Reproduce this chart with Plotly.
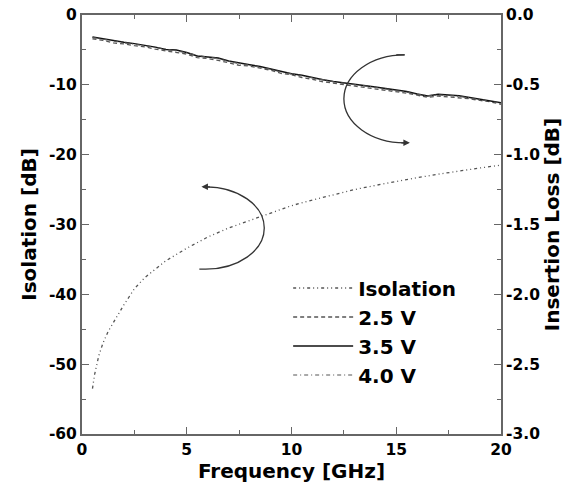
import plotly.graph_objects as go

# ---- data ----
iso_freq = [0.5, 0.6, 0.8, 1.0, 1.25, 1.5, 2.0, 2.5, 3.0, 3.5, 4.0, 5.0, 6.0, 7.0, 8.0,
            9.0, 10.0, 11.0, 12.0, 13.0, 14.0, 15.0, 16.0, 17.0, 18.0, 19.0, 20.0]
isolation = [-53.5, -51.5, -48.8, -47.0, -45.3, -44.0, -41.5, -39.2, -37.6, -36.4, -35.2,
             -33.4, -31.8, -30.5, -29.4, -28.3, -27.3, -26.5, -25.7, -25.0, -24.4, -23.8,
             -23.3, -22.8, -22.3, -21.9, -21.5]

il_freq = [0.5, 1.0, 1.5, 2.0, 2.5, 3.0, 3.5, 4.0, 4.5, 5.0, 5.5, 6.0, 6.5, 7.0, 7.5, 8.0,
           8.5, 9.0, 9.5, 10.0, 10.5, 11.0, 11.5, 12.0, 12.5, 13.0, 13.5, 14.0, 14.5, 15.0,
           15.5, 16.0, 16.5, 17.0, 17.5, 18.0, 18.5, 19.0, 19.5, 20.0]
il_35v = [-0.158, -0.172, -0.185, -0.195, -0.205, -0.215, -0.230, -0.247, -0.250, -0.268,
          -0.293, -0.300, -0.308, -0.330, -0.345, -0.356, -0.368, -0.385, -0.405, -0.420,
          -0.432, -0.450, -0.464, -0.476, -0.485, -0.494, -0.503, -0.515, -0.527, -0.537,
          -0.548, -0.566, -0.580, -0.568, -0.572, -0.578, -0.590, -0.603, -0.615, -0.628]
il_25v = [-0.170, -0.182, -0.200, -0.207, -0.220, -0.228, -0.245, -0.256, -0.268, -0.280,
          -0.305, -0.312, -0.325, -0.340, -0.360, -0.366, -0.382, -0.395, -0.418, -0.428,
          -0.448, -0.460, -0.478, -0.488, -0.500, -0.505, -0.518, -0.526, -0.540, -0.548,
          -0.560, -0.574, -0.590, -0.580, -0.585, -0.592, -0.600, -0.612, -0.622, -0.640]
il_40v = [-0.160, -0.175, -0.186, -0.198, -0.208, -0.218, -0.232, -0.245, -0.255, -0.270,
          -0.290, -0.302, -0.312, -0.332, -0.348, -0.358, -0.372, -0.388, -0.408, -0.422,
          -0.436, -0.452, -0.468, -0.478, -0.488, -0.497, -0.506, -0.518, -0.530, -0.540,
          -0.552, -0.568, -0.578, -0.572, -0.576, -0.582, -0.594, -0.606, -0.618, -0.632]

x_ticks = [0, 5, 10, 15, 20]
y1_ticks = [0, -10, -20, -30, -40, -50, -60]
y1_labels = ["0", "-10", "-20", "-30", "-40", "-50", "-60"]
y2_ticks = [0.0, -0.5, -1.0, -1.5, -2.0, -2.5, -3.0]
y2_labels = ["0.0", "-0.5", "-1.0", "-1.5", "-2.0", "-2.5", "-3.0"]

FONT = "DejaVu Sans, Liberation Sans, Arial, sans-serif"
AXC = "#666666"

fig = go.Figure()
fig.add_trace(go.Scatter(x=iso_freq, y=isolation, name="Isolation", mode="lines",
                         line=dict(color="#555555", width=1.3, dash="3px,3px,1px,3px,1px,3px"),
                         yaxis="y", legendgroup="a"))
fig.add_trace(go.Scatter(x=il_freq, y=il_25v, name="2.5 V", mode="lines",
                         line=dict(color="#555555", width=1.3, dash="4px,3px"), yaxis="y2",
                         legendgroup="b"))
fig.add_trace(go.Scatter(x=il_freq, y=il_35v, name="3.5 V", mode="lines",
                         line=dict(color="#111111", width=1.5), yaxis="y2", legendgroup="c"))
fig.add_trace(go.Scatter(x=il_freq, y=il_40v, name="4.0 V", mode="lines",
                         line=dict(color="#555555", width=1.2, dash="4px,3px,1px,3px"), yaxis="y2",
                         legendgroup="d"))

tickfont = dict(family=FONT, size=15.5, color="black", weight="bold")
titlefont = dict(family=FONT, size=20, color="black", weight="bold")

fig.update_layout(
    width=571, height=494,
    margin=dict(l=82, r=70, t=15, b=60, autoexpand=False),
    paper_bgcolor="white", plot_bgcolor="white",
    showlegend=True,
    legend=dict(x=0.492, y=0.395, xanchor="left", yanchor="top",
                font=dict(family=FONT, size=20, color="black", weight="bold"),
                bgcolor="rgba(0,0,0,0)", tracegroupgap=6, itemwidth=60,
                traceorder="normal"),
    xaxis=dict(range=[0, 20], tickvals=x_ticks, ticks="inside", ticklen=7, tickwidth=1.3,
               tickcolor=AXC, showline=True, linecolor=AXC, linewidth=2, mirror="ticks",
               showgrid=False, zeroline=False, tickfont=tickfont, automargin=False,
               ticklabeloverflow="allow",
               minor=dict(dtick=2.5, tick0=0, ticks="inside", ticklen=4, tickcolor=AXC),
               title=dict(text="Frequency [GHz]", font=titlefont, standoff=4)),
    yaxis=dict(range=[-60, 0], tickvals=y1_ticks, ticktext=y1_labels, ticks="inside",
               ticklen=7, tickwidth=1.3, ticklabeloverflow="allow",
               tickcolor=AXC, showline=True, linecolor=AXC, linewidth=2, automargin=False,
               showgrid=False, zeroline=False, tickfont=tickfont,
               minor=dict(dtick=5, tick0=0, ticks="inside", ticklen=4, tickcolor=AXC),
               title=dict(text="Isolation [dB]", font=titlefont, standoff=7)),
    yaxis2=dict(range=[-3, 0], tickvals=y2_ticks, ticktext=y2_labels, overlaying="y",
                side="right", ticks="inside", ticklen=7, tickwidth=1.3, tickcolor=AXC,
                showline=True, linecolor=AXC, linewidth=2, showgrid=False, zeroline=False,
                tickfont=tickfont, automargin=False, ticklabeloverflow="allow",
                minor=dict(dtick=0.25, tick0=0, ticks="inside", ticklen=4, tickcolor=AXC),
                title=dict(text="Insertion Loss [dB]", font=titlefont, standoff=4)),
)

# curved arrows (decorations) as bezier paths in data coordinates
k = 0.5523
def half_ellipse(cx, cy, rx, ry, side):
    s = -1 if side == "left" else 1
    return (f"M {cx},{cy+ry} C {cx+s*k*rx},{cy+ry} {cx+s*rx},{cy+k*ry} {cx+s*rx},{cy} "
            f"C {cx+s*rx},{cy-k*ry} {cx+s*k*rx},{cy-ry} {cx},{cy-ry}")

fig.add_shape(type="path", xref="x", yref="y",
              path=half_ellipse(15.4, -12.0, 2.9, 6.3, "left") + " L 15.5,-18.3",
              line=dict(color="#333333", width=1.3))
fig.add_shape(type="path", xref="x", yref="y",
              path="M 15.0,-5.7 L 15.4,-5.7",
              line=dict(color="#333333", width=1.3))
fig.add_annotation(x=15.65, y=-18.3, ax=-10, ay=0, text="", showarrow=True,
                   arrowhead=2, arrowsize=1, arrowwidth=1.3, arrowcolor="#333333",
                   xref="x", yref="y")

fig.add_shape(type="path", xref="x", yref="y",
              path=half_ellipse(5.9, -30.5, 2.8, 5.9, "right") + " L 5.6,-36.4",
              line=dict(color="#333333", width=1.3))
fig.add_annotation(x=5.7, y=-24.6, ax=10, ay=0, text="", showarrow=True,
                   arrowhead=2, arrowsize=1, arrowwidth=1.3, arrowcolor="#333333",
                   xref="x", yref="y")

# remove the default 8px page margin so the figure fills the window exactly
fig.write_html("out.html", config={"displayModeBar": False},
               post_script="document.body.style.margin='0';")
